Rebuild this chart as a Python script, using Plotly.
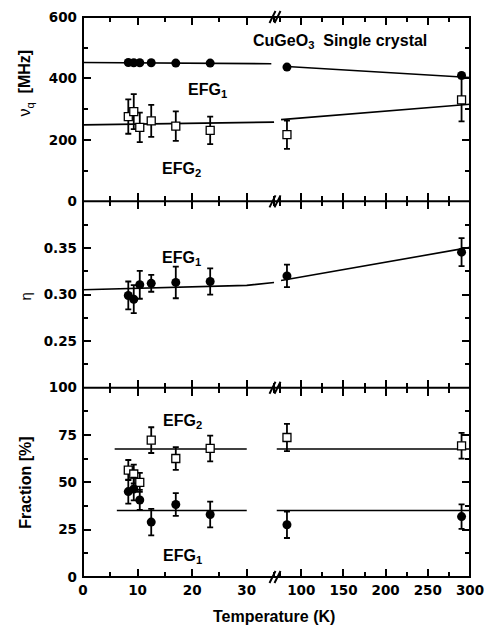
import plotly.graph_objects as go

# ---------------- data ----------------
T = [8.3, 9.3, 10.4, 12.5, 17.0, 23.3, 83.0, 290.0]

nuq_efg1 = [452, 451, 451, 451, 450, 450, 437, 410]
nuq_efg2 = [276, 292, 241, 262, 245, 231, 217, 330]
nuq_efg2_err = [56, 57, 48, 52, 48, 45, 46, 70]

eta_efg1 = [0.299, 0.295, 0.3105, 0.312, 0.313, 0.314, 0.320, 0.3455]
eta_efg1_err = [0.015, 0.015, 0.015, 0.009, 0.017, 0.014, 0.012, 0.015]

frac_efg1 = [45.1, 46.5, 40.7, 29.0, 38.3, 33.0, 27.6, 31.9]
frac_efg1_err = [6.3, 6.0, 5.3, 7.0, 6.0, 6.8, 7.0, 6.5]
frac_efg2 = [56.5, 54.4, 50.0, 72.3, 62.6, 67.9, 73.7, 69.3]
frac_efg2_err = [5.3, 5.0, 5.0, 6.8, 6.0, 6.8, 7.2, 6.8]

# fit lines (left segment / right segment of the broken axis)
nuq1_fit_T_left, nuq1_fit_left = [0, 34.5], [452, 448]
nuq1_fit_T_right, nuq1_fit_right = [83, 300], [439, 403]
nuq2_fit_T_left, nuq2_fit_left = [0, 35], [249, 258]
nuq2_fit_T_right, nuq2_fit_right = [76, 300], [266, 316]
eta_fit_T_left, eta_fit_left = [0, 30, 35], [0.3052, 0.3098, 0.313]
eta_fit_T_right, eta_fit_right = [76, 300], [0.315, 0.3506]
frac1_fit_T_left, frac1_fit_left = [6.2, 30], [35.1, 35.1]
frac1_fit_T_right, frac1_fit_right = [70.6, 300], [35.1, 35.1]
frac2_fit_T_left, frac2_fit_left = [5.8, 30], [67.6, 67.6]
frac2_fit_T_right, frac2_fit_right = [70.6, 300], [67.6, 67.6]

x_left_range = [0, 35.45]
x_right_range = [70.6, 300]
x_left_ticks = [0, 10, 20, 30]
x_right_ticks = [100, 150, 200, 250, 300]

# ---------------- figure ----------------
W, H = 493, 635
ML, MR, MT, MB = 83, 20, 9, 58
PW, PH = W - ML - MR, H - MT - MB

def py(p):  # pixel y -> paper
    return (H - MB - p) / PH

def px(p):  # pixel x -> paper
    return (p - ML) / PW

panels = {
    1: [0.0, py(385)],
    2: [py(385), py(196)],
    3: [py(196), 1.0],
}

fig = go.Figure()
TICKFONT = dict(family="DejaVu Sans", size=13.5, color="black", weight="bold")

def axname(i, kind):
    return kind if i == 1 else f"{kind}{i}"

def add_series(p, xs, ys, err=None, symbol="circle", line=False):
    left = [(x, y, (err[k] if err else None)) for k, (x, y) in enumerate(zip(xs, ys)) if x <= x_left_range[1]]
    right = [(x, y, (err[k] if err else None)) for k, (x, y) in enumerate(zip(xs, ys)) if x >= x_right_range[0]]
    for seg, pts in ((0, left), (1, right)):
        if not pts:
            continue
        idx = 2 * p - 1 + seg
        tr = dict(x=[a for a, _, _ in pts], y=[b for _, b, _ in pts],
                  xaxis=axname(idx, "x"), yaxis=axname(idx, "y"), showlegend=False,
                  hoverinfo="skip")
        if line:
            fig.add_trace(go.Scatter(mode="lines", line=dict(color="black", width=1.6), **tr))
        else:
            if symbol == "square":
                marker = dict(symbol="square", size=8, color="white", line=dict(color="black", width=1.3))
            else:
                marker = dict(symbol="circle", size=9, color="black", line=dict(color="black", width=0))
            ey = None
            if err:
                ey = dict(type="data", array=[c for _, _, c in pts], visible=True,
                          color="black", thickness=1.8, width=3)
            fig.add_trace(go.Scatter(mode="markers", marker=marker, error_y=ey, **tr))

# fit lines
add_series(3, nuq1_fit_T_left, nuq1_fit_left, line=True)
add_series(3, nuq1_fit_T_right, nuq1_fit_right, line=True)
add_series(3, nuq2_fit_T_left, nuq2_fit_left, line=True)
add_series(3, nuq2_fit_T_right, nuq2_fit_right, line=True)
add_series(2, eta_fit_T_left, eta_fit_left, line=True)
add_series(2, eta_fit_T_right, eta_fit_right, line=True)
add_series(1, frac1_fit_T_left, frac1_fit_left, line=True)
add_series(1, frac1_fit_T_right, frac1_fit_right, line=True)
add_series(1, frac2_fit_T_left, frac2_fit_left, line=True)
add_series(1, frac2_fit_T_right, frac2_fit_right, line=True)

# data
add_series(3, T, nuq_efg2, nuq_efg2_err, symbol="square")
add_series(3, T, nuq_efg1, symbol="circle")
add_series(2, T, eta_efg1, eta_efg1_err, symbol="circle")
add_series(1, T, frac_efg2, frac_efg2_err, symbol="square")
add_series(1, T, frac_efg1, frac_efg1_err, symbol="circle")

layout = dict(
    width=W, height=H, margin=dict(l=ML, r=MR, t=MT, b=MB),
    paper_bgcolor="white", plot_bgcolor="white", showlegend=False,
    font=dict(family="Liberation Sans", color="black"),
)

yspecs = {
    3: dict(range=[0, 600], tickvals=[0, 200, 400, 600], minor_vals=[100, 300, 500]),
    2: dict(range=[0.2, 0.4], tickvals=[0.25, 0.30, 0.35],
            ticktext=["0.25", "0.30", "0.35"], minor_vals=[0.225, 0.275, 0.325, 0.375]),
    1: dict(range=[0, 100], tickvals=[0, 25, 50, 75, 100], minor_vals=[12.5, 37.5, 62.5, 87.5]),
}

for p in (1, 2, 3):
    for seg in (0, 1):
        idx = 2 * p - 1 + seg
        xk = "xaxis" if idx == 1 else f"xaxis{idx}"
        yk = "yaxis" if idx == 1 else f"yaxis{idx}"
        if seg == 0:
            xr, tv, mv = x_left_range, x_left_ticks, [5, 15, 25, 35]
            dom = [0, 0.5]
        else:
            xr, tv, mv = x_right_range, x_right_ticks, [75, 125, 175, 225, 275]
            dom = [0.5, 1]
        layout[xk] = dict(
            domain=dom, range=xr, anchor=axname(idx, "y"),
            showline=False, mirror="ticks",
            ticks="inside", ticklen=8, tickwidth=2, tickcolor="black",
            tickmode="array", tickvals=tv, ticktext=[str(v) for v in tv],
            minor=dict(ticks="inside", ticklen=5, tickwidth=2, tickcolor="black", tickvals=mv),
            showgrid=False, zeroline=False, fixedrange=True,
            showticklabels=(p == 1), tickfont=TICKFONT, ticklabelstandoff=3,
        )
        ys = yspecs[p]
        yd = dict(
            domain=panels[p], range=ys["range"], anchor=axname(idx, "x"),
            side="left" if seg == 0 else "right",
            showline=False,
            ticks="inside", ticklen=8, tickwidth=2, tickcolor="black",
            tickmode="array", tickvals=ys["tickvals"],
            minor=dict(ticks="inside", ticklen=5, tickwidth=2, tickcolor="black", tickvals=ys["minor_vals"]),
            showgrid=False, zeroline=False, fixedrange=True,
            showticklabels=(seg == 0), tickfont=TICKFONT, ticklabelstandoff=5,
        )
        if "ticktext" in ys:
            yd["ticktext"] = ys["ticktext"]
        layout[yk] = yd

fig.update_layout(**layout)

# frame and panel separators
fig.add_shape(type="rect", xref="paper", yref="paper", x0=0, x1=1, y0=0, y1=1,
              line=dict(color="black", width=2), layer="above")
for yb in (196, 385):
    fig.add_shape(type="line", xref="paper", yref="paper", x0=0, x1=1, y0=py(yb), y1=py(yb),
                  line=dict(color="black", width=2), layer="above")

# axis break marks "//"
for yb in (9, 196, 385, 577):
    for dx in (-5, 0):
        fig.add_shape(type="line", xref="paper", yref="paper",
                      xsizemode="pixel", ysizemode="pixel",
                      xanchor=px(278), yanchor=py(yb),
                      x0=dx - 2, x1=dx + 4, y0=-6, y1=6,
                      line=dict(color="black", width=2), layer="above")

def ann(text, x, y, size=16, angle=0, xanchor="left", bold=True, family="Liberation Sans"):
    fig.add_annotation(text=text, x=px(x), y=py(y), xref="paper", yref="paper",
                       showarrow=False, textangle=angle, xanchor=xanchor, yanchor="middle",
                       font=dict(family=family, size=size, color="black",
                                 weight="bold" if bold else "normal"))

ann("CuGeO<sub>3</sub>  Single crystal", 252, 34)
ann("EFG<sub>1</sub>", 187, 84)
ann("EFG<sub>2</sub>", 161, 164)
ann("EFG<sub>1</sub>", 161, 254)
ann("EFG<sub>2</sub>", 162, 419)
ann("EFG<sub>1</sub>", 162, 556)
ann("ν<sub>q</sub>  <b>[MHz]</b>", 25, 76, angle=-90, xanchor="center", bold=False)
ann("η", 25, 292, size=15, angle=-90, xanchor="center", bold=False)
ann("Fraction [%]", 25, 481, angle=-90, xanchor="center")
ann("Temperature (K)", 275, 617, xanchor="center")

# the page's default 8px body margin would shift the figure; remove it
fig.write_html("out.html", config={"displayModeBar": False},
               post_script="document.body.style.margin='0px';")
